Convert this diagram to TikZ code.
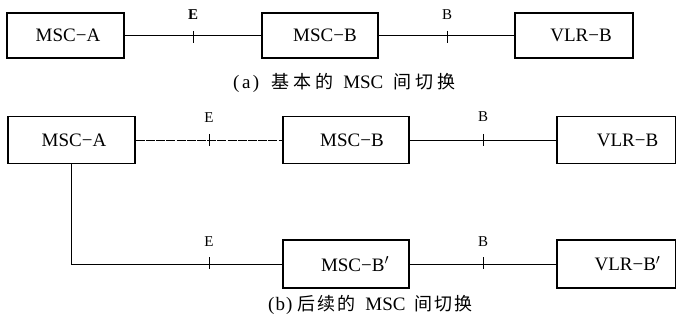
\documentclass[tikz,border=0pt]{standalone}
\usepackage{fontspec}
\newfontfamily\lib{Liberation Serif}
\newfontfamily\cjk{Noto Sans CJK SC}
\tikzset{
  box/.style={draw, line width=1.6pt, minimum height=45pt, inner sep=0pt, font=\lib\fontsize{19}{21}\selectfont, anchor=center},
  conn/.style={line width=0.8pt},
  tickmark/.style={line width=1pt},
  lbl/.style={font=\lib\fontsize{15}{16}\selectfont, inner sep=0pt},
  captext/.style={font=\lib\fontsize{19}{21}\selectfont, inner sep=0pt, anchor=west},
}
\begin{document}
\begin{tikzpicture}[x=1pt,y=-1pt]
\useasboundingbox (0,0) rectangle (676,323);
% ---- row (a)
\node[box, minimum width=117pt] (aA) at (65.5,35.5) {\hspace*{5pt}MSC−A};
\node[box, minimum width=116pt] (aB) at (320,35.5) {\hspace*{10pt}MSC−B};
\node[box, minimum width=118pt] (aV) at (574,35.5) {\hspace*{14pt}VLR−B};
\draw[conn] (aA) -- (aB);
\draw[conn] (aB) -- (aV);
\coordinate (aE) at (193,37);
\coordinate (aBt) at (447,37);
\draw[tickmark] (aE) ++(0,-6) -- ++(0,12);
\draw[tickmark] (aBt) ++(0,-6) -- ++(0,12);
\node[lbl] (aEl) at (193,15) {\textbf{E}};
\node[lbl] (aBl) at (447,15) {B};
\node[captext] (capa) at (233,83) {(\hspace{2.5pt}a\hspace{2.5pt})\hspace{12pt}{\cjk\fontsize{18}{20}\selectfont 基\hspace{4pt}本\hspace{4pt}的}\hspace{10pt}MSC\hspace{10pt}{\cjk\fontsize{18}{20}\selectfont 间\hspace{4pt}切\hspace{4pt}换}};
% ---- row (b) top
\node[box, minimum width=127pt, minimum height=47pt] (bA) at (71.5,140) {\hspace*{5pt}MSC−A};
\node[box, minimum width=126pt, minimum height=47pt] (bB) at (346,140) {\hspace*{12pt}MSC−B};
\node[box, minimum width=119pt, minimum height=47pt] (bV) at (616.5,140) {\hspace*{22pt}VLR−B};
\draw[conn, dash pattern=on 9pt off 1.2pt] (bA) -- (bB);
\draw[conn] (bB) -- (bV);
\coordinate (bE) at (209,140);
\coordinate (bBt) at (483,140);
\draw[tickmark] (bE) ++(0,-6) -- ++(0,12);
\draw[tickmark] (bBt) ++(0,-6) -- ++(0,12);
\node[lbl] (bEl) at (209,118) {E};
\node[lbl] (bBl) at (483,117) {B};
% ---- row (b) bottom
\node[box, minimum width=126pt, minimum height=48pt] (cB) at (346,264) {\hspace*{18pt}MSC−B$'$};
\node[box, minimum width=119pt, minimum height=48pt] (cV) at (616.5,264) {\hspace*{22pt}VLR−B$'$};
\draw[conn] (bA.south) |- (cB.west);
\draw[conn] (cB) -- (cV);
\coordinate (cE) at (209,263);
\coordinate (cBt) at (483,263);
\draw[tickmark] (cE) ++(0,-6) -- ++(0,12);
\draw[tickmark] (cBt) ++(0,-6) -- ++(0,12);
\node[lbl] (cEl) at (209,242) {E};
\node[lbl] (cBl) at (483,242) {B};
\node[captext] (capb) at (268,305) {(\hspace{1pt}b\hspace{1pt})\hspace{5pt}{\cjk\fontsize{18}{20}\selectfont 后\hspace{2pt}续\hspace{2pt}的}\hspace{10pt}MSC\hspace{9pt}{\cjk\fontsize{18}{20}\selectfont 间\hspace{2pt}切\hspace{2pt}换}};
\end{tikzpicture}
\end{document}
